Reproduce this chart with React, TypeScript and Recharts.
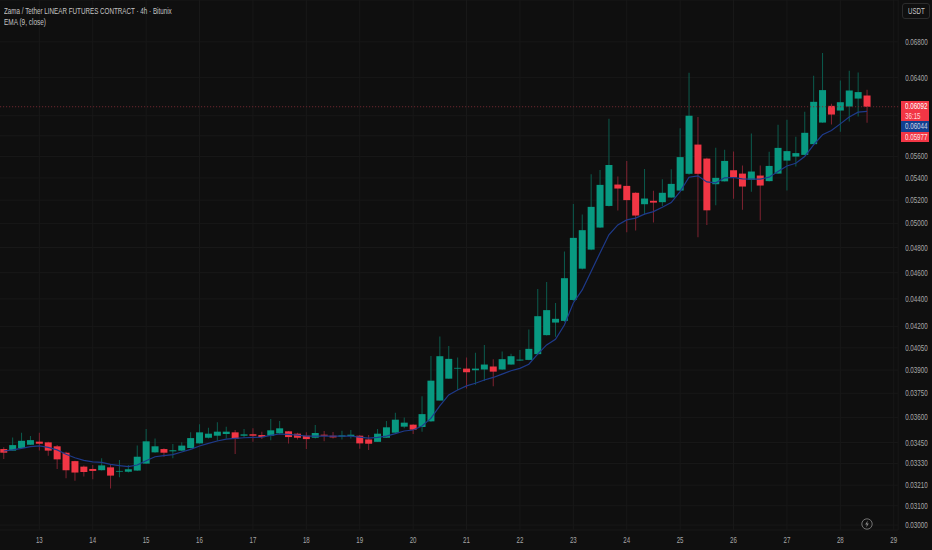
import { Bar, CartesianGrid, Cell, ComposedChart, Line, ReferenceLine, XAxis, YAxis } from 'recharts';

const BG = '#0f0f0f';
const UP = '#089981';
const DOWN = '#f23645';
const UP_WICK = '#0b5c4e';
const DOWN_WICK = '#7f2331';
const AXIS_TEXT = '#a8a8a8';
const TICK_FONT = '"Liberation Sans", sans-serif';

// 4h slots, "day/hour"
const times = [
  '12/08', '12/12', '12/16', '12/20',
  '13/00', '13/04', '13/08', '13/12', '13/16', '13/20',
  '14/00', '14/04', '14/08', '14/12', '14/16', '14/20',
  '15/00', '15/04', '15/08', '15/12', '15/16', '15/20',
  '16/00', '16/04', '16/08', '16/12', '16/16', '16/20',
  '17/00', '17/04', '17/08', '17/12', '17/16', '17/20',
  '18/00', '18/04', '18/08', '18/12', '18/16', '18/20',
  '19/00', '19/04', '19/08', '19/12', '19/16', '19/20',
  '20/00', '20/04', '20/08', '20/12', '20/16', '20/20',
  '21/00', '21/04', '21/08', '21/12', '21/16', '21/20',
  '22/00', '22/04', '22/08', '22/12', '22/16', '22/20',
  '23/00', '23/04', '23/08', '23/12', '23/16', '23/20',
  '24/00', '24/04', '24/08', '24/12', '24/16', '24/20',
  '25/00', '25/04', '25/08', '25/12', '25/16', '25/20',
  '26/00', '26/04', '26/08', '26/12', '26/16', '26/20',
  '27/00', '27/04', '27/08', '27/12', '27/16', '27/20',
  '28/00', '28/04', '28/08', '28/12', '28/16', '28/20',
  '29/00',
];

const dayTicks = [
  '13/00', '14/00', '15/00', '16/00', '17/00', '18/00', '19/00', '20/00', '21/00',
  '22/00', '23/00', '24/00', '25/00', '26/00', '27/00', '28/00', '29/00',
];

const priceTicks = [
  0.03, 0.031, 0.0321, 0.0333, 0.0345, 0.036, 0.0375, 0.039, 0.0405, 0.042, 0.044, 0.046,
  0.048, 0.05, 0.052, 0.054, 0.056, 0.058, 0.06, 0.064, 0.068,
];

// gridlines stay, but the price tags sit on top of these two labels
const coveredPriceLabels = [0.058, 0.06];

const opens = [
  0.03412, 0.03403, 0.03418, 0.03437, 0.03455, 0.03451, 0.03428, 0.03391, 0.03343, 0.03312,
  0.03299, 0.03292, 0.03308, 0.03284, 0.03284, 0.0329, 0.03329, 0.03393, 0.03412, 0.03399,
  0.03403, 0.03418, 0.03445, 0.03478, 0.0349, 0.035, 0.0351, 0.0349, 0.03498, 0.03494,
  0.0349, 0.03504, 0.03516, 0.03502, 0.0349, 0.03478, 0.03496, 0.0349, 0.03484, 0.03488,
  0.0349, 0.03468, 0.03454, 0.03478, 0.03508, 0.03544, 0.03556, 0.03542, 0.03576, 0.03704,
  0.03844, 0.0391, 0.0391, 0.03899, 0.03904, 0.03924, 0.03904, 0.03937, 0.03964, 0.03968,
  0.04007, 0.04138, 0.04227, 0.04239, 0.04392, 0.04631, 0.04783, 0.04965, 0.0515, 0.0534,
  0.05328, 0.05266, 0.05165, 0.05195, 0.05183, 0.05224, 0.05286, 0.05438, 0.05714, 0.0558,
  0.05343, 0.05369, 0.05471, 0.0544, 0.05383, 0.05422, 0.05371, 0.0544, 0.05561, 0.05599,
  0.05615, 0.05718, 0.05931, 0.06101, 0.06053, 0.06094, 0.06177, 0.06209,
];

const highs = [
  0.03422, 0.0348, 0.03508, 0.03488, 0.03508, 0.03455, 0.03435, 0.03397, 0.03345, 0.03318,
  0.03321, 0.03359, 0.03321, 0.03349, 0.03321, 0.03432, 0.0353, 0.03474, 0.03416, 0.03441,
  0.03451, 0.0351, 0.03558, 0.03538, 0.0357, 0.03544, 0.03524, 0.0353, 0.03534, 0.03514,
  0.0359, 0.03578, 0.03518, 0.03508, 0.0351, 0.03554, 0.03518, 0.03512, 0.0352, 0.03524,
  0.03494, 0.03494, 0.0353, 0.03578, 0.03628, 0.036, 0.03558, 0.03731, 0.03995, 0.04128,
  0.04063, 0.03984, 0.03984, 0.04016, 0.0407, 0.03973, 0.04025, 0.04009, 0.04036, 0.04178,
  0.04474, 0.04528, 0.0437, 0.04767, 0.05168, 0.05076, 0.05435, 0.05474, 0.05969, 0.05413,
  0.05558, 0.0527, 0.05483, 0.05284, 0.05389, 0.05481, 0.05875, 0.06453, 0.05987, 0.05587,
  0.05684, 0.05663, 0.05647, 0.05514, 0.05822, 0.05514, 0.05644, 0.05908, 0.05959, 0.0579,
  0.0604, 0.0642, 0.06672, 0.06122, 0.06369, 0.06475, 0.06456, 0.06269,
];

const lows = [
  0.03355, 0.03403, 0.03416, 0.03435, 0.03403, 0.03374, 0.03299, 0.03247, 0.03234, 0.03257,
  0.03242, 0.0329, 0.03192, 0.03253, 0.03279, 0.03288, 0.03327, 0.03391, 0.03368, 0.03359,
  0.03401, 0.03415, 0.03445, 0.03474, 0.0346, 0.03474, 0.03384, 0.03478, 0.03455, 0.0347,
  0.03464, 0.03498, 0.03445, 0.03468, 0.03412, 0.03474, 0.03458, 0.03474, 0.03468, 0.03474,
  0.03414, 0.03406, 0.03454, 0.03478, 0.03508, 0.03534, 0.035, 0.03514, 0.03574, 0.03704,
  0.03844, 0.03771, 0.0378, 0.03805, 0.03829, 0.03795, 0.03902, 0.03935, 0.03961, 0.03966,
  0.04005, 0.04136, 0.04127, 0.04232, 0.04385, 0.04625, 0.04777, 0.04962, 0.05146, 0.0511,
  0.04926, 0.0494, 0.05073, 0.05007, 0.0515, 0.05221, 0.05284, 0.05429, 0.04885, 0.04987,
  0.05156, 0.05367, 0.05213, 0.05116, 0.05275, 0.05024, 0.05367, 0.05438, 0.05286, 0.05505,
  0.05612, 0.05716, 0.05928, 0.05911, 0.05839, 0.05941, 0.05992, 0.05928,
];

const closes = [
  0.03391, 0.03435, 0.0346, 0.03464, 0.03443, 0.03403, 0.03353, 0.03292, 0.03279, 0.03282,
  0.03288, 0.03319, 0.03262, 0.03288, 0.03297, 0.03368, 0.03457, 0.03428, 0.03391, 0.03405,
  0.03432, 0.03476, 0.0351, 0.03502, 0.03514, 0.03514, 0.03472, 0.03498, 0.0349, 0.03482,
  0.03522, 0.03534, 0.03482, 0.03478, 0.0347, 0.03506, 0.0349, 0.0348, 0.03492, 0.03496,
  0.03445, 0.03443, 0.03502, 0.0354, 0.03586, 0.03568, 0.03526, 0.0362, 0.03831, 0.03993,
  0.03975, 0.03915, 0.03886, 0.0391, 0.03937, 0.0389, 0.03973, 0.03993, 0.0397, 0.04043,
  0.04273, 0.04317, 0.04254, 0.04557, 0.04879, 0.04943, 0.05142, 0.05337, 0.0552, 0.05304,
  0.05201, 0.05067, 0.05215, 0.05179, 0.05266, 0.05346, 0.05594, 0.06, 0.05438, 0.05112,
  0.05401, 0.05558, 0.05404, 0.05322, 0.05459, 0.05331, 0.05511, 0.05682, 0.05651, 0.05632,
  0.05829, 0.06143, 0.06266, 0.06012, 0.06139, 0.06262, 0.06245, 0.06092,
];

const ema = [
  0.03401, 0.03407, 0.03416, 0.03426, 0.0343, 0.03422, 0.03407, 0.03382, 0.03362, 0.03347,
  0.03339, 0.03336, 0.03325, 0.03318, 0.03312, 0.03321, 0.03345, 0.03368, 0.03374, 0.0338,
  0.03395, 0.0341, 0.0343, 0.03445, 0.03459, 0.0347, 0.03474, 0.03478, 0.0348, 0.03482,
  0.03492, 0.035, 0.03498, 0.03494, 0.03488, 0.03488, 0.03488, 0.03488, 0.03488, 0.03488,
  0.03482, 0.03476, 0.0348, 0.03488, 0.03502, 0.03518, 0.03524, 0.03548, 0.03594, 0.03671,
  0.0374, 0.03771, 0.03797, 0.03814, 0.03835, 0.03852, 0.03874, 0.03896, 0.03912, 0.03939,
  0.04007, 0.0407, 0.04109, 0.0421, 0.0437, 0.04467, 0.04608, 0.04756, 0.04904, 0.04987,
  0.0503, 0.05045, 0.05079, 0.05101, 0.05139, 0.05179, 0.05277, 0.05407, 0.05419, 0.05364,
  0.05355, 0.05401, 0.05404, 0.05392, 0.05389, 0.05389, 0.05407, 0.05459, 0.05511, 0.05536,
  0.05599, 0.05711, 0.05809, 0.05852, 0.05918, 0.05987, 0.06037, 0.06044,
];

const lastClose = 0.06092;

const rows = times.map((time, i) =>
  i < opens.length
    ? {
        time,
        wick: [lows[i], highs[i]],
        body: [Math.min(opens[i], closes[i]), Math.max(opens[i], closes[i])],
        up: closes[i] >= opens[i],
        ema: ema[i],
      }
    : { time },
);

// the reference's labels are much narrower than any installed font, so squeeze them
const PriceTick = ({ x, y, payload }: any) =>
  coveredPriceLabels.includes(payload.value) ? (
    <g />
  ) : (
    <text
      transform={`translate(${x} ${y + 3}) scale(0.733 1)`}
      fill={AXIS_TEXT}
      fontSize={8.5}
      fontFamily={TICK_FONT}
    >
      {payload.value.toFixed(5)}
    </text>
  );

const DayTick = ({ x, y, payload }: any) => (
  <text
    transform={`translate(${x} ${y + 6.5}) scale(0.72 1)`}
    textAnchor="middle"
    fill={AXIS_TEXT}
    fontSize={8.5}
    fontFamily={TICK_FONT}
  >
    {payload.value.slice(0, 2)}
  </text>
);

const squeezed = (text: string, factor: number) => (
  <span style={{ display: 'inline-block', transform: `scaleX(${factor})`, transformOrigin: 'left center', whiteSpace: 'nowrap' }}>
    {text}
  </span>
);

const tag = (top: number, height: number, background: string, color: string, text: string) => (
  <div
    style={{
      position: 'absolute',
      left: 901,
      top,
      width: 24,
      paddingLeft: 4,
      height,
      lineHeight: `${height}px`,
      background,
      color,
      fontFamily: TICK_FONT,
      fontSize: 8.5,
      overflow: 'hidden',
    }}
  >
    {squeezed(text, 0.73)}
  </div>
);

export default function App() {
  return (
    <div style={{ position: 'absolute', left: 0, top: 0, width: 932, height: 550, background: BG, overflow: 'hidden' }}>
      <ComposedChart
        width={932}
        height={550}
        data={rows}
        barGap={0}
        margin={{ top: 0, right: 0, bottom: 0, left: -0.75 }}
      >
        <CartesianGrid xAxisId="body" stroke="#181818" strokeWidth={1} />
        <XAxis
          xAxisId="body"
          dataKey="time"
          ticks={dayTicks}
          interval={0}
          height={20}
          axisLine={false}
          tickLine={false}
          tickMargin={0}
          tick={DayTick}
        />
        <XAxis xAxisId="wick" dataKey="time" hide />
        <YAxis
          orientation="right"
          scale="log"
          domain={[0.02975, 0.07299]}
          allowDataOverflow
          ticks={priceTicks}
          interval={0}
          width={33.85}
          axisLine={false}
          tickLine={false}
          tickMargin={1}
          tick={PriceTick}
        />
        <ReferenceLine xAxisId="body" y={lastClose} stroke="#7a2a33" strokeDasharray="1 2" />
        <Line
          xAxisId="body"
          dataKey="ema"
          stroke="#1e3a8a"
          strokeWidth={1.2}
          dot={false}
          activeDot={false}
          isAnimationActive={false}
        />
        <Bar xAxisId="wick" dataKey="wick" barSize={1} isAnimationActive={false}>
          {rows.map((r, i) => (
            <Cell key={i} fill={r.up ? UP_WICK : DOWN_WICK} />
          ))}
        </Bar>
        <Bar xAxisId="body" dataKey="body" barSize={7} isAnimationActive={false}>
          {rows.map((r, i) => (
            <Cell key={i} fill={r.up ? UP : DOWN} />
          ))}
        </Bar>
      </ComposedChart>

      <div style={{ position: 'absolute', left: 4, top: 5, fontFamily: TICK_FONT, fontSize: 9.5, color: '#c4c4c4', lineHeight: '11px' }}>
        <div>{squeezed('Zama / Tether LINEAR FUTURES CONTRACT · 4h · Bitunix', 0.66)}</div>
        <div>{squeezed('EMA (9, close)', 0.68)}</div>
      </div>

      <div
        style={{
          position: 'absolute',
          left: 902,
          top: 3,
          width: 21,
          height: 14,
          paddingLeft: 5,
          lineHeight: '14px',
          border: '1px solid #2c2c2c',
          borderRadius: 3,
          color: '#c8c8c8',
          fontFamily: TICK_FONT,
          fontSize: 8.5,
        }}
      >
        {squeezed('USDT', 0.72)}
      </div>

      {tag(101, 11, DOWN, '#ffffff', '0.06092')}
      {tag(112, 9, DOWN, '#ffd9dc', '36:15')}
      {tag(121, 11, '#123f8f', '#cfd6e4', '0.06044')}
      {tag(132, 10, DOWN, '#ffe4e6', '0.05977')}

      <svg style={{ position: 'absolute', left: 860, top: 517 }} width={14} height={14} viewBox="0 0 14 14">
        <circle cx={7} cy={7} r={5.2} fill="none" stroke="#8a8a8a" strokeWidth={0.8} />
        <path d="M7.8 3.6 L5.2 7.4 H6.9 L6.2 10.4 L8.8 6.6 H7.1 Z" fill="#8a8a8a" />
      </svg>
    </div>
  );
}
